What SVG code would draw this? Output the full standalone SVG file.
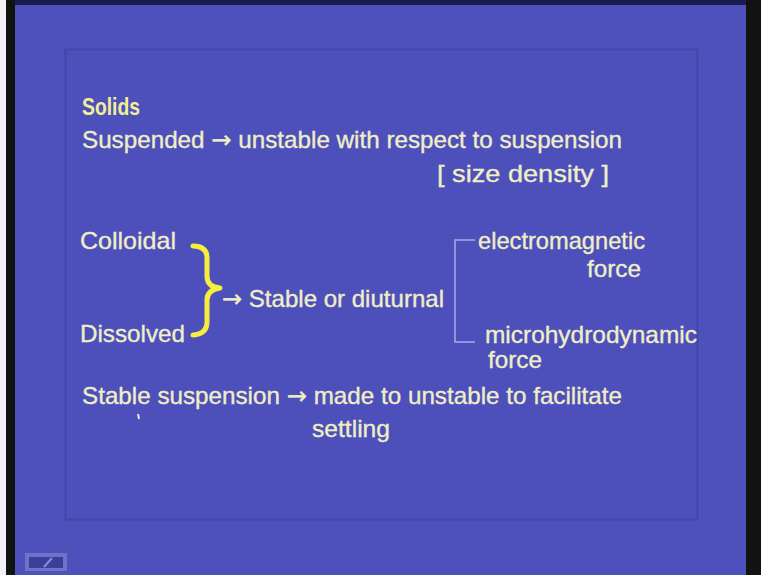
<svg xmlns="http://www.w3.org/2000/svg" width="761" height="575" viewBox="0 0 761 575">
  <defs>
    <style>
      .t { font-family: "Liberation Sans", Arial, sans-serif; font-size: 24px; fill: #efeec6; stroke: #efeec6; stroke-width: 0.35; }
      .title { font-family: "Liberation Sans", Arial, sans-serif; font-size: 24px; font-weight: bold; fill: #f2ee98; }
      .arr { font-family: "DejaVu Sans", sans-serif; }
      .brace { fill: none; stroke: #f4ee3e; stroke-width: 5; stroke-linecap: round; stroke-linejoin: round; }
      .bracket { fill: none; stroke: #a9aae2; stroke-width: 1.5; }
    </style>
  </defs>

  <!-- screen frame -->
  <rect x="0" y="0" width="761" height="575" fill="#4e50bc"/>
  <rect x="0" y="0" width="6" height="575" fill="#f2f2f2"/>
  <rect x="6" y="0" width="9" height="575" fill="#111311"/>
  <rect x="746" y="0" width="15" height="575" fill="#111311"/>
  <rect x="15" y="0" width="731" height="5" fill="#1a1c50"/>

  <!-- inner panel -->
  <rect x="65.5" y="49.5" width="632" height="470" fill="#4d4fbb" stroke="#4346a6" stroke-width="2"/>

  <!-- small icon bottom-left -->
  <g id="icon">
    <rect x="25" y="553" width="42" height="18" fill="#6f72c8"/>
    <rect x="29" y="557" width="34" height="11" fill="#3c3f98"/>
    <path d="M44 567 L52 558" stroke="#8a8dd6" stroke-width="2"/>
  </g>

  <g id="solids">
    <text class="title" x="82" y="115" textLength="58" lengthAdjust="spacingAndGlyphs">Solids</text>
  </g>
  <g id="suspended">
    <text class="t" x="82" y="148" textLength="540" lengthAdjust="spacingAndGlyphs">Suspended <tspan class="arr">→</tspan> unstable with respect to suspension</text>
  </g>
  <g id="size-density">
    <text class="t" x="437" y="182" textLength="172" lengthAdjust="spacingAndGlyphs">[ size density ]</text>
  </g>
  <g id="colloidal">
    <text class="t" x="80" y="249" textLength="96" lengthAdjust="spacingAndGlyphs">Colloidal</text>
  </g>
  <g id="dissolved">
    <text class="t" x="80" y="342" textLength="105" lengthAdjust="spacingAndGlyphs">Dissolved</text>
  </g>
  <g id="stable">
    <text class="t" x="222" y="307" textLength="222" lengthAdjust="spacingAndGlyphs"><tspan class="arr">→</tspan> Stable or diuturnal</text>
  </g>
  <g id="electromagnetic">
    <text class="t" x="478" y="249" textLength="167" lengthAdjust="spacingAndGlyphs">electromagnetic</text>
    <text class="t" x="587" y="277" textLength="54" lengthAdjust="spacingAndGlyphs">force</text>
  </g>
  <g id="microhydrodynamic">
    <text class="t" x="485" y="343" textLength="212" lengthAdjust="spacingAndGlyphs">microhydrodynamic</text>
    <text class="t" x="488" y="368" textLength="54" lengthAdjust="spacingAndGlyphs">force</text>
  </g>
  <g id="stable-suspension">
    <text class="t" x="82" y="404" textLength="540" lengthAdjust="spacingAndGlyphs">Stable suspension <tspan class="arr">→</tspan> made to unstable to facilitate</text>
    <text class="t" x="312" y="437" textLength="78" lengthAdjust="spacingAndGlyphs">settling</text>
    <path d="M138 414 L139 419" stroke="#efeec6" stroke-width="2"/>
  </g>

  <g id="connectors">
    <path class="brace" d="M193 246 Q207 246 207 258 L207 276 Q207 287 220 288 Q207 290 207 300 L207 322 Q207 334 193 335"/>
    <path class="bracket" d="M475 240 L455 240 L455 342 L475 342"/>
  </g>
</svg>
